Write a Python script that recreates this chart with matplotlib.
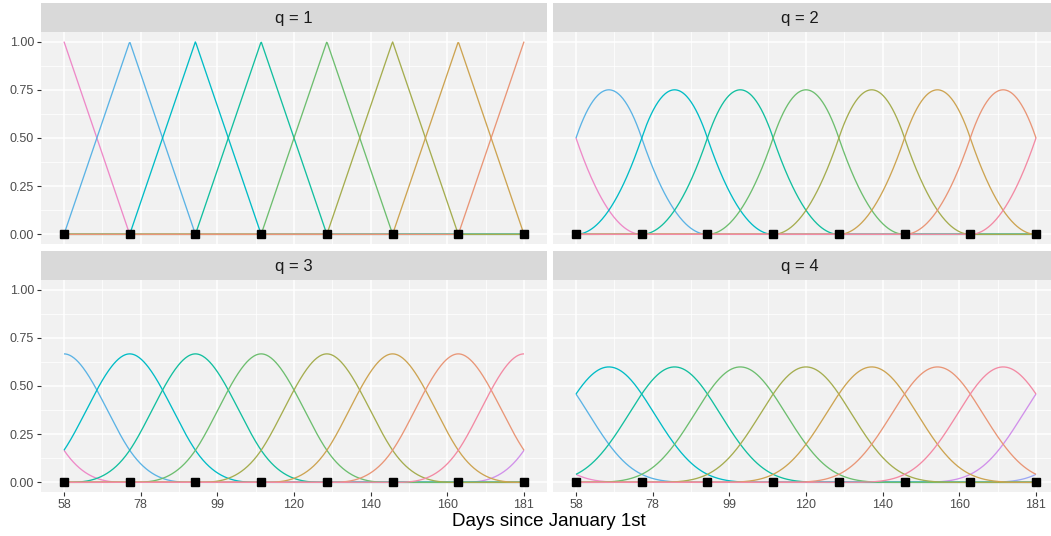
import numpy as np
import matplotlib
matplotlib.use("Agg")
import matplotlib.pyplot as plt

plt.rcParams['font.family'] = ['Liberation Sans', 'DejaVu Sans']

# knots (days since January 1st) and spline degrees
knots = [58, 75.571, 93.143, 110.714, 128.286, 145.857, 163.429, 181]
degrees = [1, 2, 3, 4]
x_breaks = [58, 78.5, 99, 119.5, 140, 160.5, 181]
x_labels = ['58', '78', '99', '120', '140', '160', '181']
y_breaks = [0, 0.25, 0.5, 0.75, 1.0]
y_labels = ['0.00', '0.25', '0.50', '0.75', '1.00']

# colour of each basis function, keyed by its label
basis_colors = {
    '1': '#EE89C8', '10': '#D190EA', '11': '#9DA8F4', '2': '#5BB3E5',
    '3': '#00BCC6', '4': '#12BF9F', '5': '#6DBE6F', '6': '#A5AD4F',
    '7': '#CDA452', '8': '#E99677', '9': '#F38AA4',
}


def bspline(x, t, j, q):
    # Cox-de Boor recursion
    if q == 0:
        return np.where((x >= t[j]) & (x < t[j + 1]), 1.0, 0.0)
    left = (x - t[j]) / (t[j + q] - t[j]) * bspline(x, t, j, q - 1)
    right = (t[j + q + 1] - x) / (t[j + q + 1] - t[j + 1]) * bspline(x, t, j + 1, q - 1)
    return left + right


k = np.array(knots)
h = (k[-1] - k[0]) / (len(k) - 1)
xs = np.linspace(k[0], k[-1], 600)

fig = plt.figure(figsize=(10.51, 5.36), dpi=100)
W, H = 1051, 536
# right-hand panels run past the figure edge
panels = [(41, 3, 547, 244), (553, 3, 1059, 244),
          (41, 251, 547, 492), (553, 251, 1059, 492)]
title_x = [294, 800, 294, 800]
strip_h = 29

for i, q in enumerate(degrees):
    x0, y0, x1, y1 = panels[i]
    sax = fig.add_axes([x0 / W, 1 - (y0 + strip_h) / H, (x1 - x0) / W, strip_h / H])
    sax.set_facecolor('#D9D9D9')
    sax.set_xticks([]); sax.set_yticks([])
    for s in sax.spines.values():
        s.set_visible(False)
    fig.text(title_x[i] / W, 1 - (y0 + strip_h * 0.52) / H, f'q = {q}', ha='center',
             va='center', fontsize=12, color='#1A1A1A')

    ax = fig.add_axes([x0 / W, 1 - y1 / H, (x1 - x0) / W, (y1 - y0 - strip_h) / H])
    ax.set_facecolor('#F1F1F1')
    for s in ax.spines.values():
        s.set_visible(False)

    t = np.concatenate([k[0] - h * np.arange(q, 0, -1), k, k[-1] + h * np.arange(1, q + 1)])
    n_basis = len(t) - q - 1
    labels = sorted([str(j + 1) for j in range(n_basis)])
    for lab in labels:
        j = int(lab) - 1
        ax.plot(xs, bspline(xs, t, j, q), color=basis_colors[lab], lw=0.95,
                solid_capstyle='butt', zorder=3)
    ax.plot(k, np.zeros_like(k), ls='none', marker='s', ms=5.2, color='black', zorder=4)

    ax.set_xlim(k[0] - 0.05 * (k[-1] - k[0]), k[-1] + 0.05 * (k[-1] - k[0]))
    ax.set_ylim(-0.05, 1.05)
    ax.set_xticks(x_breaks)
    ax.set_yticks(y_breaks)
    ax.set_xticks([(a + b) / 2 for a, b in zip(x_breaks[:-1], x_breaks[1:])], minor=True)
    ax.set_yticks([0.125, 0.375, 0.625, 0.875], minor=True)
    ax.grid(which='major', color='white', lw=1.1, zorder=0)
    ax.grid(which='minor', color='white', lw=0.55, zorder=0)
    ax.set_axisbelow(True)
    ax.tick_params(which='minor', length=0)
    ax.tick_params(which='major', length=3, width=0.8, color='#333333',
                   labelsize=9, labelcolor='#4D4D4D', pad=2)
    if i >= 2:
        ax.set_xticklabels(x_labels)
    else:
        ax.tick_params(axis='x', length=0, labelbottom=False)
    if i % 2 == 0:
        ax.set_yticklabels(y_labels)
    else:
        ax.tick_params(axis='y', length=0, labelleft=False)

fig.text(549 / W, 1 - 521 / H, 'Days since January 1st', ha='center', va='center',
         fontsize=13.5, color='black')

fig.savefig('out.png', dpi=100)
